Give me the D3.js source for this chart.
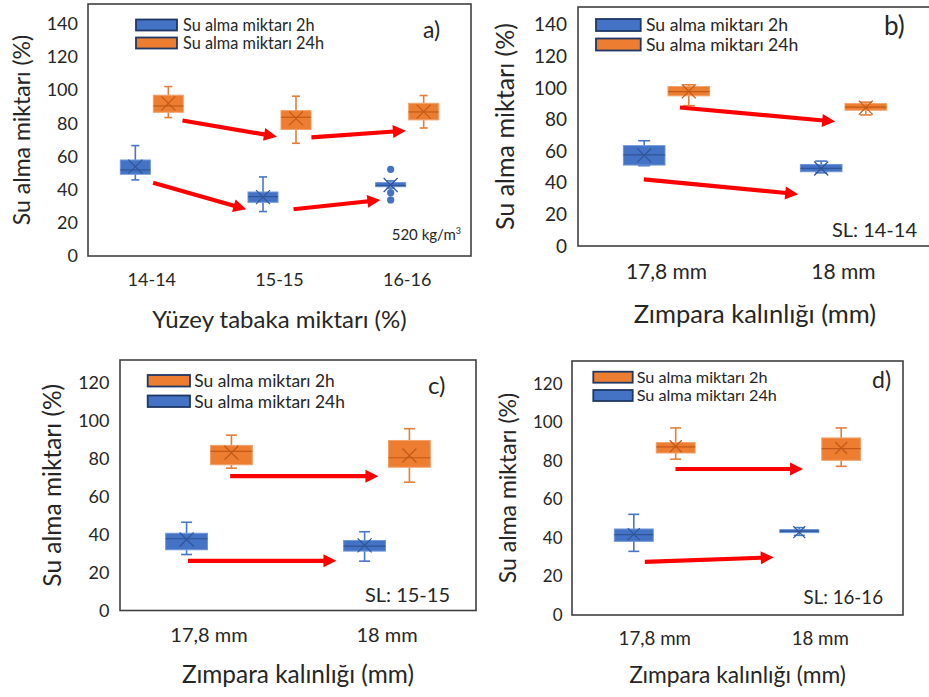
<!DOCTYPE html>
<html>
<head>
<meta charset="utf-8">
<script src="https://cdn.jsdelivr.net/npm/d3@7"></script>
<style>
  body { margin: 0; background: #fff; }
  svg { display: block; font-family: Lato, 'Noto Sans', sans-serif; }
</style>
</head>
<body>
<svg id="chart" width="929" height="697"></svg>
<script>
// categories
const layerCats = ['14-14', '15-15', '16-16'];
const sandCats = ['17,8 mm', '18 mm'];
const ticks140 = [0, 20, 40, 60, 80, 100, 120, 140];
const ticks120 = [0, 20, 40, 60, 80, 100, 120];

// box stats per category: [min, q1, median, q3, max, mean]
const a2h = [[45.9, 49.3, 51.9, 57.9, 66.6, 53.9], [26.8, 32.4, 35.8, 38.6, 47.7, 35.5], [41.0, 41.8, 42.5, 44.3, 45.3, 42.8]];
const a2hOutliers = [[], [], [52.3, 38.2, 33.8]];
const a24h = [[83.5, 86.7, 90.5, 97.0, 102.2, 92.1], [68.0, 76.3, 83.7, 87.7, 96.4, 83.0], [77.2, 82.1, 86.9, 92.1, 96.8, 87.1]];

const b2h = [[50.8, 51.2, 57.6, 63.5, 66.6, 57.3], [46.3, 47.0, 49.1, 51.6, 53.7, 49.0]];
const b24h = [[88.8, 95.0, 97.6, 100.9, 102.0, 97.8], [82.9, 85.9, 87.8, 90.1, 91.0, 87.5]];

const c24h = [[29.5, 32.0, 37.8, 40.7, 46.5, 37.4], [26.0, 31.3, 33.9, 36.9, 41.5, 34.3]];
const c2h = [[75.0, 76.8, 83.8, 87.0, 92.4, 83.1], [67.6, 75.5, 80.5, 89.6, 95.8, 81.7]];

const d24h = [[33.0, 38.2, 41.7, 44.6, 52.2, 41.9], [41.3, 42.7, 43.5, 44.3, 45.3, 43.0]];
const d2h = [[80.8, 84.0, 87.2, 89.4, 97.0, 87.5], [77.1, 80.2, 86.3, 91.8, 97.0, 86.6]];

// trend arrows: x in category steps from the first category, y in %
const arrowsA = [[0.24, 81.7, 0.98, 72.0], [1.25, 71.6, 1.99, 75.6], [0.01, 44.2, 0.74, 28.2], [1.11, 28.2, 1.79, 33.8]];
const arrowsB = [[0.076, 87.6, 0.953, 78.7], [-0.128, 42.1, 0.744, 32.8]];
const arrowsC = [[0.119, 70.8, 0.952, 70.8], [-0.118, 26.2, 0.716, 26.2]];
const arrowsD = [[0.125, 75.7, 0.896, 75.7], [-0.06, 27.5, 0.719, 29.9]];

const colors = {
    blue: { fill: '#4472C4', edge: '#7196D8', dark: '#2F5597', whisker: '#4A76C6', legend: '#1F3864' },
    orange: { fill: '#ED7D31', edge: '#F2A26B', dark: '#C15A17', whisker: '#E37F3B', legend: '#1F3864' }
};

const panels = [
    {
        cats: layerCats, left: 88, right: 471, top: 4, bottom: 256, yTop: 152, ticks: ticks140,
        tickFs: 18, yPad: 10, xTickFs: 18, xGap: 30,
        yTitleX: 22, yTitleFs: 23, xTitle: 'Yüzey tabaka miktarı (%)', xTitleY: 328, xTitleFs: 24,
        series: [
            { name: 'Su alma miktarı 2h', color: 'blue', stats: a2h, outliers: a2hOutliers },
            { name: 'Su alma miktarı 24h', color: 'orange', stats: a24h }
        ],
        legendOrder: [0, 1],
        legend: { x: 136, y: 19.5, w: 41, h: 11, dy: 18, tx: 183, fs: 16.3 },
        label: { text: 'a)', x: 423, y: 38, fs: 23 },
        note: { text: '520 kg/m', sup: '3', x: 461, y: 240, fs: 15 },
        arrows: arrowsA, capW: 8, meanR: 7
    },
    {
        cats: sandCats, left: 578, right: 932, top: 7, bottom: 246, yTop: 151.2, ticks: ticks140,
        tickFs: 19, yPad: 11, xTickFs: 21, xGap: 33,
        yTitleX: 505, yTitleFs: 25, xTitle: 'Zımpara kalınlığı (mm)', xTitleY: 323, xTitleFs: 25.5,
        series: [
            { name: 'Su alma miktarı 2h', color: 'blue', stats: b2h },
            { name: 'Su alma miktarı 24h', color: 'orange', stats: b24h }
        ],
        legendOrder: [0, 1],
        legend: { x: 596, y: 19, w: 44.7, h: 12, dy: 19.5, tx: 646, fs: 17.6 },
        label: { text: 'b)', x: 884, y: 35, fs: 26 },
        note: { text: 'SL: 14-14', x: 917, y: 237, fs: 20 },
        arrows: arrowsB, capW: 12, meanR: 7
    },
    {
        cats: sandCats, left: 120, right: 476, top: 360, bottom: 610.5, yTop: 132, ticks: ticks120,
        tickFs: 18, yPad: 10.5, xTickFs: 20, xGap: 31,
        yTitleX: 52, yTitleFs: 24.5, xTitle: 'Zımpara kalınlığı (mm)', xTitleY: 683, xTitleFs: 24.4,
        series: [
            { name: 'Su alma miktarı 24h', color: 'blue', stats: c24h },
            { name: 'Su alma miktarı 2h', color: 'orange', stats: c2h }
        ],
        legendOrder: [1, 0],
        legend: { x: 147.7, y: 375, w: 42.3, h: 11.5, dy: 20.5, tx: 194.3, fs: 17.4 },
        label: { text: 'c)', x: 428, y: 394, fs: 24 },
        note: { text: 'SL: 15-15', x: 450, y: 601.7, fs: 20 },
        arrows: arrowsC, capW: 11, meanR: 7
    },
    {
        cats: sandCats, left: 572, right: 903, top: 361, bottom: 615, yTop: 131.7, ticks: ticks120,
        tickFs: 17, yPad: 9.5, xTickFs: 18.7, xGap: 30,
        yTitleX: 508, yTitleFs: 23, xTitle: 'Zımpara kalınlığı (mm)', xTitleY: 683, xTitleFs: 22.8,
        series: [
            { name: 'Su alma miktarı 24h', color: 'blue', stats: d24h },
            { name: 'Su alma miktarı 2h', color: 'orange', stats: d2h }
        ],
        legendOrder: [1, 0],
        legend: { x: 593.3, y: 371.7, w: 39.4, h: 11, dy: 18.3, tx: 636.7, fs: 16.2 },
        label: { text: 'd)', x: 872, y: 388, fs: 23 },
        note: { text: 'SL: 16-16', x: 883, y: 604, fs: 18.7 },
        arrows: arrowsD, capW: 11, meanR: 6
    }
];

const svg = d3.select('#chart');
const textColor = '#262626';

function drawArrow(g, x0, y0, x1, y1) {
    const ang = Math.atan2(y1 - y0, x1 - x0);
    const hl = 13, hw = 6.5;
    const bx = x1 - hl * Math.cos(ang), by = y1 - hl * Math.sin(ang);
    g.append('line')
        .attr('x1', x0).attr('y1', y0)
        .attr('x2', bx + Math.cos(ang)).attr('y2', by + Math.sin(ang))
        .attr('stroke', '#FF0000')
        .attr('stroke-width', 4.2);
    g.append('polygon')
        .attr('points', [
            [x1, y1],
            [bx + hw * Math.sin(ang), by - hw * Math.cos(ang)],
            [bx - hw * Math.sin(ang), by + hw * Math.cos(ang)]
        ].map(p => p.join(',')).join(' '))
        .attr('fill', '#FF0000');
}

function boxPanel(p) {
    const g = svg.append('g');

    const x = d3.scaleBand().domain(p.cats).range([p.left, p.right]);
    const y = d3.scaleLinear().domain([0, p.yTop]).range([p.bottom, p.top]);
    const center = c => x(c) + x.bandwidth() / 2;
    // continuous x for annotations, in category steps
    const xu = d3.scaleLinear().domain([0, 1]).range([center(p.cats[0]), center(p.cats[0]) + x.step()]);
    const boxW = x.step() * 0.235;
    const gap = 1.5;

    // frame
    g.append('rect')
        .attr('x', p.left).attr('y', p.top)
        .attr('width', p.right - p.left).attr('height', p.bottom - p.top)
        .attr('fill', 'none')
        .attr('stroke', '#404040')
        .attr('stroke-width', 1.6);

    // Y axis
    g.append('g')
        .attr('transform', 'translate(' + p.left + ',0)')
        .call(d3.axisLeft(y).tickValues(p.ticks).tickSize(0).tickPadding(p.yPad))
        .call(a => a.select('.domain').remove())
        .attr('font-family', null)
        .attr('font-size', p.tickFs)
        .selectAll('text').attr('fill', textColor);

    // X axis
    g.append('g')
        .attr('transform', 'translate(0,' + p.bottom + ')')
        .call(d3.axisBottom(x).tickSize(0).tickPadding(p.xGap - 0.71 * p.xTickFs))
        .call(a => a.select('.domain').remove())
        .attr('font-family', null)
        .attr('font-size', p.xTickFs)
        .selectAll('text').attr('fill', textColor);

    // axis titles
    g.append('text')
        .attr('transform', 'translate(' + p.yTitleX + ',' + ((p.top + p.bottom) / 2) + ') rotate(-90)')
        .attr('text-anchor', 'middle')
        .attr('dy', '0.35em')
        .attr('font-size', p.yTitleFs)
        .attr('fill', textColor)
        .text('Su alma miktarı (%)');

    g.append('text')
        .attr('x', (p.left + p.right) / 2)
        .attr('y', p.xTitleY)
        .attr('text-anchor', 'middle')
        .attr('font-size', p.xTitleFs)
        .attr('fill', textColor)
        .text(p.xTitle);

    // boxes
    p.series.forEach((s, si) => {
        const col = colors[s.color];
        const off = si === 0 ? -(boxW + gap) : gap;
        const sg = g.append('g');
        s.stats.forEach((d, i) => {
            const cat = p.cats[i];
            const bx = center(cat) + off;
            const mx = bx + boxW / 2;

            // whiskers
            sg.append('line')
                .attr('x1', mx).attr('x2', mx)
                .attr('y1', y(d[4])).attr('y2', y(d[3]))
                .attr('stroke', col.whisker).attr('stroke-width', 1.6);
            sg.append('line')
                .attr('x1', mx).attr('x2', mx)
                .attr('y1', y(d[1])).attr('y2', y(d[0]))
                .attr('stroke', col.whisker).attr('stroke-width', 1.6);
            [d[0], d[4]].forEach(v => {
                sg.append('line')
                    .attr('x1', mx - p.capW / 2).attr('x2', mx + p.capW / 2)
                    .attr('y1', y(v)).attr('y2', y(v))
                    .attr('stroke', col.whisker).attr('stroke-width', 1.6);
            });

            // box
            sg.append('rect')
                .attr('x', bx).attr('y', y(d[3]))
                .attr('width', boxW)
                .attr('height', Math.max(2.5, y(d[1]) - y(d[3])))
                .attr('fill', col.fill)
                .attr('stroke', col.edge)
                .attr('stroke-width', 1);

            // median
            sg.append('line')
                .attr('x1', bx).attr('x2', bx + boxW)
                .attr('y1', y(d[2])).attr('y2', y(d[2]))
                .attr('stroke', col.dark).attr('stroke-width', 1.2);

            // mean marker
            const my = y(d[5]), r = p.meanR;
            sg.append('path')
                .attr('d', 'M' + (mx - r) + ',' + (my - r) + 'L' + (mx + r) + ',' + (my + r) +
                    'M' + (mx - r) + ',' + (my + r) + 'L' + (mx + r) + ',' + (my - r))
                .attr('stroke', col.dark).attr('stroke-width', 1.2)
                .attr('fill', 'none');

            // outliers
            if (s.outliers) {
                sg.selectAll(null)
                    .data(s.outliers[i])
                    .enter()
                    .append('circle')
                    .attr('cx', mx)
                    .attr('cy', v => y(v))
                    .attr('r', 3.6)
                    .attr('fill', col.fill);
            }
        });
    });

    // arrows
    const ag = g.append('g');
    p.arrows.forEach(a => drawArrow(ag, xu(a[0]), y(a[1]), xu(a[2]), y(a[3])));

    // legend
    const lg = g.append('g');
    p.legendOrder.forEach((si, row) => {
        const s = p.series[si];
        const ly = p.legend.y + row * p.legend.dy;
        lg.append('rect')
            .attr('x', p.legend.x).attr('y', ly)
            .attr('width', p.legend.w).attr('height', p.legend.h)
            .attr('fill', colors[s.color].fill)
            .attr('stroke', colors[s.color].legend)
            .attr('stroke-width', 1.8);
        lg.append('text')
            .attr('x', p.legend.tx)
            .attr('y', ly + p.legend.h / 2)
            .attr('dy', '0.36em')
            .attr('font-size', p.legend.fs)
            .attr('fill', textColor)
            .text(s.name);
    });

    // panel label
    g.append('text')
        .attr('x', p.label.x).attr('y', p.label.y)
        .attr('font-size', p.label.fs)
        .attr('fill', textColor)
        .text(p.label.text);

    // note
    const note = g.append('text')
        .attr('x', p.note.x).attr('y', p.note.y)
        .attr('text-anchor', 'end')
        .attr('font-size', p.note.fs)
        .attr('fill', textColor)
        .text(p.note.text);
    if (p.note.sup) {
        note.append('tspan')
            .attr('dy', -6)
            .attr('font-size', p.note.fs * 0.6)
            .text(p.note.sup);
    }
}

panels.forEach(boxPanel);
</script>
</body>
</html>
